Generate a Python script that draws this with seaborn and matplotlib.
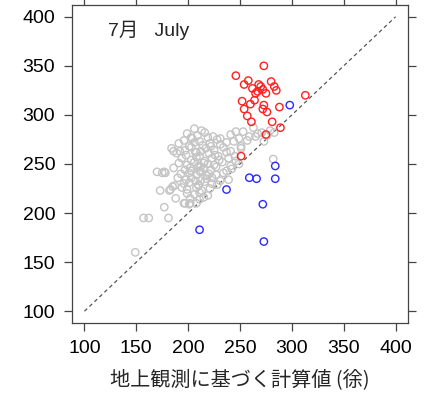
import numpy as np
import pandas as pd
import matplotlib
matplotlib.use("Agg")
import matplotlib.pyplot as plt
import seaborn as sns

# ---- data ----
red_x = [273, 246, 254, 258, 262, 268, 270, 280, 283, 285, 272, 267, 265, 275,
         252, 264, 260, 254, 273, 272, 276, 288, 313, 257, 261, 281, 289, 275, 251]
red_y = [350, 340, 331, 335, 327, 331, 329, 334, 329, 325, 326, 324, 322, 322,
         314, 315, 311, 306, 310, 306, 303, 308, 320, 299, 293, 293, 287, 280, 258]

blue_x = [284, 259, 266, 284, 237, 272, 211, 273, 298]
blue_y = [248, 236, 235, 235, 224, 209, 183, 171, 310]

gray_x = [149, 157, 162, 181, 177, 173, 182, 187, 170, 177, 188, 197, 202, 208, 186, 192,
          175, 178, 185, 183, 196, 201,
          206, 213, 246, 263, 271, 279, 203,
          199, 209, 216, 224, 241, 253, 259, 267, 276, 283, 231,
          196, 204, 211, 219, 228, 237, 249, 257, 265, 273, 222,
          191, 201, 206, 214, 221, 231, 244, 251, 208,
          184, 197, 203, 212, 217, 225, 234, 241, 251, 229,
          189, 198, 207, 211, 220, 226, 237, 245, 215,
          194, 203, 208, 216, 223, 230, 239, 246, 282, 212,
          191, 199, 206, 210, 219, 225, 233, 241, 249, 203,
          186, 197, 202, 211, 215, 222, 227, 237, 242, 218,
          193, 201, 208, 212, 220, 227, 234, 207,
          190, 198, 203, 212, 218, 223, 231, 239, 210,
          196, 201, 210, 216, 223, 228,
          194, 199, 208, 213, 221,
          199, 206, 211, 219,
          202, 211, 215]
gray_y = [160, 195, 195, 195, 206, 223, 223, 228, 242, 242, 215, 210, 210, 210, 263, 263,
          241, 241, 227, 224, 210, 209,
          286, 284, 283, 287, 282, 284, 277,
          281, 279, 282, 278, 280, 283, 278, 281, 279, 282, 276,
          274, 276, 273, 277, 275, 272, 276, 274, 278, 273, 268,
          271, 268, 272, 269, 271, 270, 273, 268, 262,
          266, 264, 267, 263, 266, 264, 267, 263, 266, 258,
          261, 259, 262, 258, 261, 259, 262, 258, 251,
          256, 254, 257, 253, 256, 254, 256, 253, 255, 247,
          251, 249, 252, 248, 250, 249, 252, 248, 250, 243,
          246, 244, 246, 243, 246, 244, 247, 243, 245, 238,
          240, 241, 239, 242, 240, 239, 241, 233,
          236, 234, 236, 233, 235, 236, 233, 234, 228,
          230, 231, 229, 232, 230, 229,
          226, 224, 226, 223, 225,
          220, 219, 221, 218,
          215, 214, 216]

ticks = [100, 150, 200, 250, 300, 350, 400]
x_label = "地上観測に基づく計算値 (徐)"
panel_title = "7月   July"

# ---- plotting ----
sns.set_theme(style="white")
plt.rcParams['font.family'] = ['Liberation Sans', 'Noto Sans CJK JP', 'DejaVu Sans']

fig = plt.figure(figsize=(4.27, 3.93), dpi=100)
ax = fig.add_axes([72/427, 1-323/393, 336/427, 318/393])

ax.plot([100, 400], [100, 400], ls=(0, (3, 2.5)), color='#555555', lw=0.9, zorder=1)

for xs, ys, c in [(gray_x, gray_y, '#c4c4c4'), (red_x, red_y, '#ff2020'), (blue_x, blue_y, '#2a2aff')]:
    sns.scatterplot(x=xs, y=ys, ax=ax, marker='o', s=28, facecolors='none',
                    edgecolor=c, linewidth=1.0, zorder=2)

ax.set_xlim(88, 412)
ax.set_ylim(88, 412)
ax.set_xticks(ticks)
ax.set_yticks(ticks)
ax.tick_params(axis='both', which='both', direction='out', length=6, width=0.9,
               color='#444444', labelsize=14, top=True, right=True,
               bottom=True, left=True, labelcolor='black', pad=6)
for s in ax.spines.values():
    s.set_color('#444444')
    s.set_linewidth(0.9)

ax.set_xlabel(x_label, fontsize=14.5, labelpad=10,
              family=['Noto Sans CJK JP', 'DejaVu Sans'])
ax.set_ylabel('')
ax.text(0.107, 0.92, panel_title, transform=ax.transAxes, fontsize=14,
        va='center', ha='left', family=['Liberation Sans', 'Noto Sans CJK JP', 'DejaVu Sans'])

fig.savefig('out.png', dpi=100)
